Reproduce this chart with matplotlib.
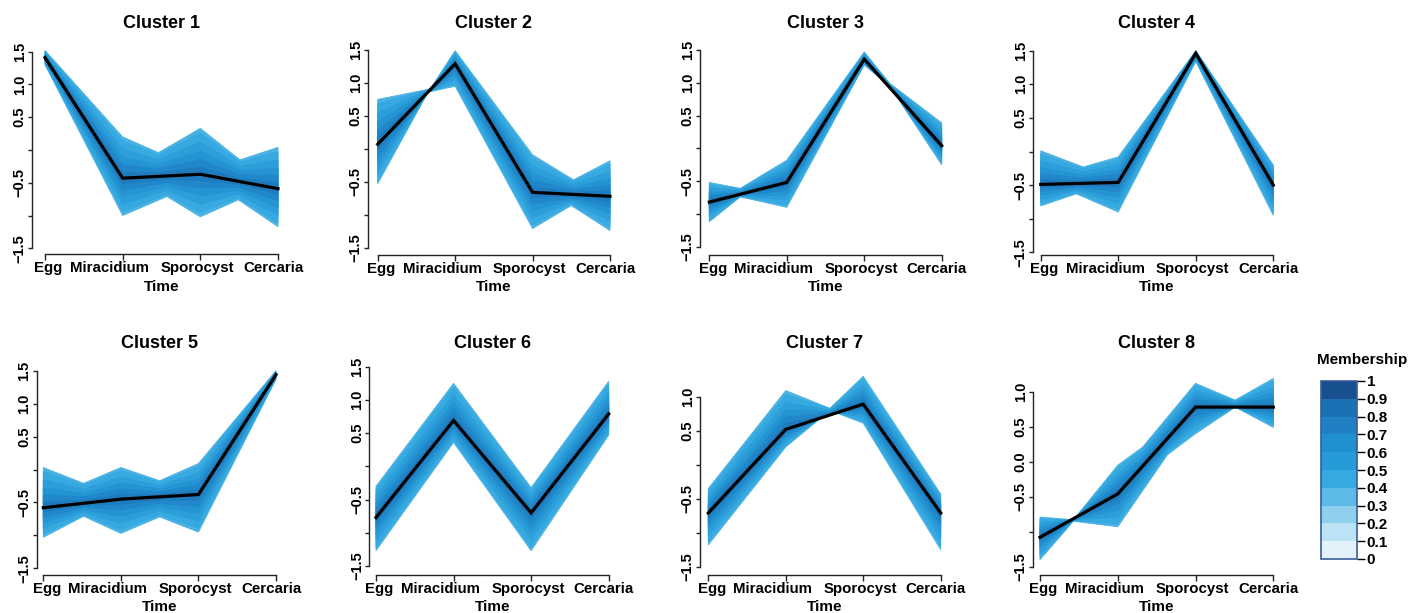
import numpy as np
import matplotlib
matplotlib.use("Agg")
import matplotlib.pyplot as plt
from matplotlib.colors import ListedColormap, BoundaryNorm
import matplotlib.colorbar as mcolorbar

plt.rcParams['font.family'] = ['Liberation Sans', 'DejaVu Sans']
plt.rcParams['font.weight'] = 'bold'

stages = ['Egg', 'Miracidium', 'Sporocyst', 'Cercaria']
times = [1, 2, 3, 4]

# cluster centres (black lines)
centre = [
    [1.41, -0.43, -0.37, -0.59],
    [0.07, 1.29, -0.66, -0.72],
    [-0.82, -0.52, 1.36, 0.04],
    [-0.49, -0.46, 1.46, -0.50],
    [-0.58, -0.45, -0.38, 1.44],
    [-0.77, 0.69, -0.70, 0.79],
    [-0.71, 0.52, 0.89, -0.71],
    [-1.08, -0.46, 0.78, 0.78],
]

# outer envelope of the member profiles (x positions, values)
upper_x = [
    [1, 2, 2.46, 3, 3.51, 4],
    [1, 1.68, 2, 3, 3.53, 4],
    [1, 1.40, 2, 3, 3.33, 4],
    [1, 1.55, 2, 3, 4],
    [1, 1.52, 2, 2.50, 3, 4],
    [1, 2, 3, 4],
    [1, 2, 2.57, 3, 4],
    [1, 1.43, 2, 2.32, 3, 3.51, 4],
]
upper_y = [
    [1.52, 0.20, -0.04, 0.33, -0.15, 0.04],
    [0.75, 0.91, 1.49, -0.09, -0.47, -0.18],
    [-0.52, -0.61, -0.18, 1.47, 0.99, 0.39],
    [0.01, -0.23, -0.08, 1.50, -0.20],
    [0.03, -0.21, 0.03, -0.17, 0.09, 1.50],
    [-0.30, 1.25, -0.32, 1.28],
    [-0.35, 1.09, 0.83, 1.30, -0.43],
    [-0.79, -0.83, -0.05, 0.21, 1.12, 0.88, 1.19],
]
lower_x = [
    [1, 2, 2.57, 3, 3.49, 4],
    [1, 1.65, 2, 3, 3.50, 4],
    [1, 1.40, 2, 3, 3.33, 4],
    [1, 1.46, 2, 3, 4],
    [1, 1.52, 2, 2.50, 3, 4],
    [1, 2, 3, 4],
    [1, 2, 2.57, 3, 4],
    [1, 1.43, 2, 2.64, 3, 3.51, 4],
]
lower_y = [
    [1.30, -1.00, -0.71, -1.02, -0.76, -1.17],
    [-0.53, 0.86, 0.95, -1.21, -0.86, -1.24],
    [-1.12, -0.74, -0.90, 1.27, 0.95, -0.25],
    [-0.81, -0.63, -0.90, 1.34, -0.95],
    [-1.03, -0.71, -0.97, -0.72, -0.95, 1.37],
    [-1.27, 0.36, -1.27, 0.47],
    [-1.18, 0.26, 0.80, 0.61, -1.25],
    [-1.40, -0.85, -0.93, 0.10, 0.40, 0.78, 0.49],
]

ytick_vals = [
    [-1.5, -1.0, -0.5, 0.0, 0.5, 1.0, 1.5],
    [-1.5, -1.0, -0.5, 0.0, 0.5, 1.0, 1.5],
    [-1.5, -1.0, -0.5, 0.0, 0.5, 1.0, 1.5],
    [-1.5, -1.0, -0.5, 0.0, 0.5, 1.0, 1.5],
    [-1.5, -1.0, -0.5, 0.0, 0.5, 1.0, 1.5],
    [-1.5, -1.0, -0.5, 0.0, 0.5, 1.0, 1.5],
    [-1.5, -1.0, -0.5, 0.0, 0.5, 1.0],
    [-1.5, -1.0, -0.5, 0.0, 0.5, 1.0],
]
ytick_text = [
    ['\u22121.5', '', '\u22120.5', '', '0.5', '1.0', '1.5'],
    ['\u22121.5', '', '\u22120.5', '', '0.5', '1.0', '1.5'],
    ['\u22121.5', '', '\u22120.5', '', '0.5', '1.0', '1.5'],
    ['\u22121.5', '', '\u22120.5', '', '0.5', '1.0', '1.5'],
    ['\u22121.5', '', '\u22120.5', '', '0.5', '1.0', '1.5'],
    ['\u22121.5', '', '\u22120.5', '', '0.5', '1.0', '1.5'],
    ['\u22121.5', '', '\u22120.5', '', '0.5', '1.0'],
    ['\u22121.5', '', '\u22120.5', '0.0', '0.5', '1.0'],
]

member_bounds = [0, 0.1, 0.2, 0.3, 0.4, 0.5, 0.6, 0.7, 0.8, 0.9, 1.0]
member_labels = ['0', '0.1', '0.2', '0.3', '0.4', '0.5', '0.6', '0.7', '0.8', '0.9', '1']
member_colors = ['#E3F2FA', '#BCE2F5', '#8ECFEE', '#5DB9E6', '#36A9E0',
                 '#279BD8', '#2090D0', '#1F80C4', '#1C70B4', '#174F8F']

# pixel layout of each panel: y-axis line, Egg tick, Cercaria tick, x-axis line, y calibration
layout = [
    (32, 45, 278, 254, 1.5, 51.7, -1.5, 248.3),
    (368, 377.7, 610, 255, 1.5, 50, -1.5, 247.7),
    (700, 709.3, 941.7, 255, 1.5, 50, -1.5, 246.7),
    (1033, 1040.7, 1273.3, 255, 1.5, 50.7, -1.5, 252.3),
    (36.7, 43.3, 276, 575, 1.5, 370.7, -1.5, 568.3),
    (369.3, 376, 608.7, 575, 1.5, 366.7, -1.5, 566),
    (700, 708.3, 940.7, 575, 1.0, 396.7, -1.5, 566.7),
    (1033, 1040, 1273.3, 575, 1.0, 391.7, -1.5, 566.7),
]
label_shift = [2.4, -9.5, -2.2, -3.5]   # points, R nudges the stage labels

W, H = 1423, 613
fig = plt.figure(figsize=(W / 100, H / 100), dpi=100)


def px_axes(left, right, bottom, top):
    return fig.add_axes([left / W, 1 - bottom / H, (right - left) / W, (bottom - top) / H])


shade_frac = [1.0, 0.9, 0.7, 0.5, 0.32, 0.15]
shade_col = ['#4AB2E3', '#36A9E0', '#2C9FDA', '#2494D3', '#2087CA', '#1E7BBE']

for i in range(8):
    sx, egg, cer, base, v1, p1, v2, p2 = layout[i]
    top = 35 if i < 4 else 355
    right = cer + 10
    ax = px_axes(sx, right, base, top)
    unit = (cer - egg) / 3.0
    yunit = (p2 - p1) / (v1 - v2)
    ax.set_xlim(1 + (sx - egg) / unit, 4 + (right - cer) / unit)
    ax.set_ylim(v2 - (base - p2) / yunit, v1 + (p1 - top) / yunit)

    ux = np.array(upper_x[i]); uy = np.array(upper_y[i])
    lx = np.array(lower_x[i]); ly = np.array(lower_y[i])
    cu = np.interp(ux, times, centre[i])
    cl = np.interp(lx, times, centre[i])
    for f, c in zip(shade_frac, shade_col):
        px = np.concatenate([ux, lx[::-1]])
        py = np.concatenate([cu + f * (uy - cu), (cl + f * (ly - cl))[::-1]])
        ax.fill(px, py, color=c, lw=0.6, ec=c)
    ax.plot(times, centre[i], color='black', lw=2.3, solid_joinstyle='miter', zorder=5)

    for s in ['top', 'right']:
        ax.spines[s].set_visible(False)
    for s in ['left', 'bottom']:
        ax.spines[s].set_color('#222222')
        ax.spines[s].set_linewidth(1.0)
    ax.spines['bottom'].set_bounds(1, 4)
    ax.spines['left'].set_bounds(min(ytick_vals[i]), max(ytick_vals[i]))
    ax.set_xticks(times)
    ax.set_xticklabels([])
    for t, name, dx in zip(times, stages, label_shift):
        ax.annotate(name, xy=(t, 0), xycoords=('data', 'axes fraction'),
                    xytext=(dx, -5.3), textcoords='offset points',
                    ha='center', va='top', fontsize=10.8, fontweight='bold',
                    annotation_clip=False)
    ax.set_yticks(ytick_vals[i])
    ax.set_yticklabels(ytick_text[i], rotation=90, va='center', fontsize=10.5, fontweight='bold')
    ax.tick_params(axis='x', length=4.3, width=1.0, color='#222222')
    ax.tick_params(axis='y', length=3.2, width=1.0, pad=0.6, color='#222222')
    ax.patch.set_alpha(0)

    cx = (egg + cer) / 2
    ty = 24 if i < 4 else 344
    tt = 287 if i < 4 else 607
    fig.text(cx / W, 1 - ty / H, 'Cluster %d' % (i + 1), ha='center', va='center',
             fontsize=13, fontweight='bold')
    fig.text(cx / W, 1 - tt / H, 'Time', ha='center', va='center',
             fontsize=11, fontweight='bold')

cax = px_axes(1321, 1357, 559, 381)
cmap = ListedColormap(member_colors)
norm = BoundaryNorm(member_bounds, cmap.N)
cb = mcolorbar.ColorbarBase(cax, cmap=cmap, norm=norm, ticks=member_bounds,
                            orientation='vertical')
cb.set_ticklabels(member_labels)
cb.outline.set_edgecolor('#3A5C9C')
cb.outline.set_linewidth(1.2)
cax.tick_params(length=5.5, width=1.0, pad=1.5, labelsize=11)
for t in cax.get_yticklabels():
    t.set_fontweight('bold')
fig.text(1362 / W, 1 - 360 / H, 'Membership', ha='center', va='center',
         fontsize=11, fontweight='bold')

fig.savefig('out.png', dpi=100)
